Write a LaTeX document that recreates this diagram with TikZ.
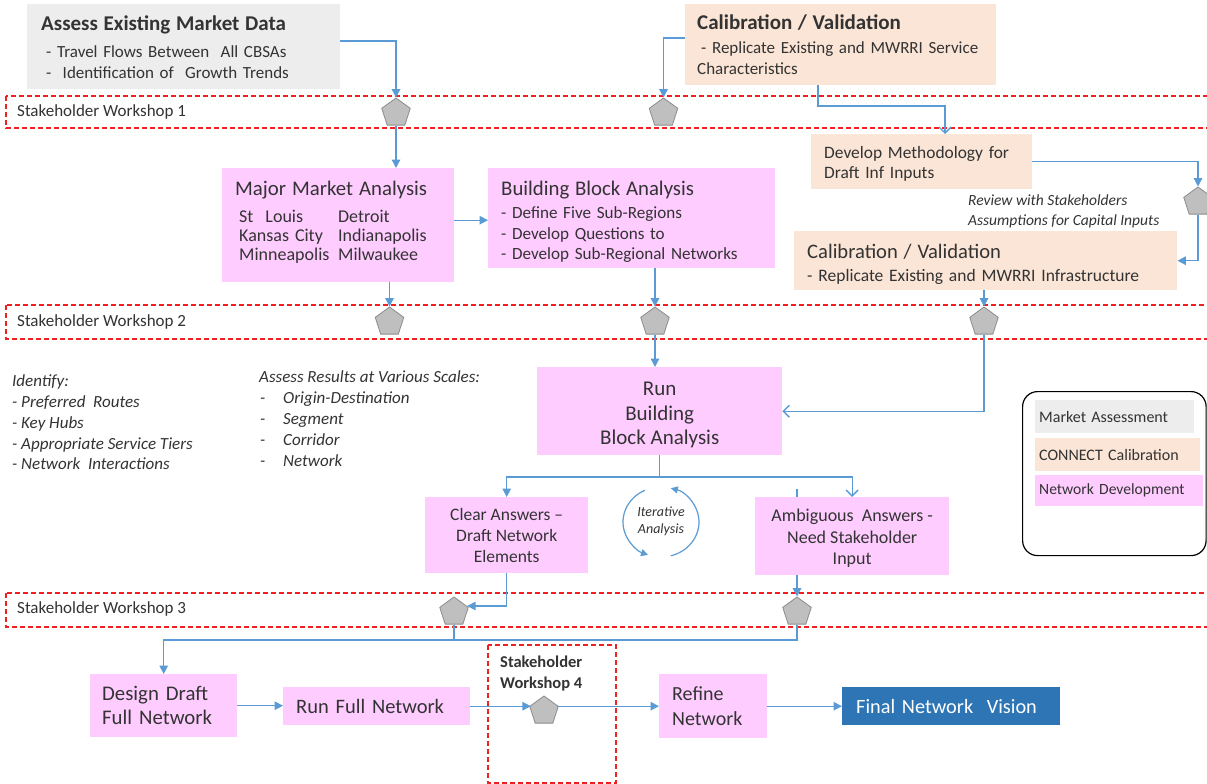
\documentclass[tikz,border=0pt]{standalone}
\usepackage{fontspec}
\setmainfont{Carlito}
\usetikzlibrary{arrows.meta,shapes.geometric}
\definecolor{pinkf}{HTML}{FFCCFF}
\definecolor{peach}{HTML}{FBE5D6}
\definecolor{grayf}{HTML}{EDEDED}
\definecolor{arr}{HTML}{5B9BD5}
\definecolor{pentf}{HTML}{BFBFBF}
\definecolor{pentd}{HTML}{8C8C8C}
\definecolor{finalb}{HTML}{2E75B6}
\definecolor{txt}{HTML}{333333}
\definecolor{wsred}{HTML}{F02020}
\begin{document}
\begin{tikzpicture}[x=1pt,y=-1pt,
  every node/.style={text=txt, inner sep=0pt},
  fbox/.style={anchor=north west, rectangle, inner sep=0pt, align=left},
  gbox/.style={fbox, fill=grayf},
  pbox/.style={fbox, fill=peach},
  mbox/.style={fbox, fill=pinkf},
  wsband/.style={draw=wsred, line width=1.2pt, dash pattern=on 5pt off 3pt},
  wslabel/.style={anchor=west, font=\fontsize{17}{20}\selectfont},
  pent/.style={regular polygon, regular polygon sides=5, minimum size=30pt, fill=pentf, draw=pentd, line width=0.8pt, inner sep=0pt},
  con/.style={draw=arr, line width=1.4pt, -{Triangle[length=8.5pt,width=8.5pt]}},
  ocon/.style={draw=arr, line width=1.4pt, -{Straight Barb[length=6pt,width=12pt]}},
  ln/.style={draw=arr, line width=1.4pt},
  arcarrow/.style={draw=arr, line width=1.2pt, -{Triangle[length=7pt,width=7pt]}},
  itnote/.style={anchor=west, align=left, text=txt}
]
\useasboundingbox (0,0) rectangle (1207,784);
\fill[white] (0,0) rectangle (1207,784);

% workshop bands
\draw[wsband] (6,96) rectangle (1215,128);
\draw[wsband] (6,305) rectangle (1215,339);
\draw[wsband] (6,593) rectangle (1215,627);
\draw[wsband] (488,645) rectangle (616,783);
\node[wslabel] (w1) at (17,112) {Stakeholder Workshop 1};
\node[wslabel] (w2) at (17,322) {Stakeholder Workshop 2};
\node[wslabel] (w3) at (17,609) {Stakeholder Workshop 3};
\node[anchor=north west, align=left, font=\fontsize{16.5}{21}\selectfont\bfseries] (w4) at (500,656) {Stakeholder\\Workshop 4};

% boxes
\node[gbox, minimum width=313pt, minimum height=85pt, text width=285pt, font=\fontsize{17}{21}\selectfont] (assess) at (27,4)
  {{\fontsize{21}{21}\selectfont\bfseries Assess Existing Market Data}\\[6pt]\hspace*{5pt}- Travel Flows Between\ \ All CBSAs\\\hspace*{5pt}-\ \ Identification of\ \ Growth Trends};
\node[pbox, minimum width=311pt, minimum height=81pt, text width=287pt, font=\fontsize{17}{20.5}\selectfont] (cal1) at (685,4)
  {{\fontsize{21}{21}\selectfont\bfseries Calibration / Validation}\\[3.5pt]\hspace*{4pt}- Replicate Existing and MWRRI Service\\Characteristics};
\node[pbox, minimum width=221pt, minimum height=55pt, text width=195pt, font=\fontsize{17.4}{20}\selectfont] (dev) at (811,134)
  {\rule{0pt}{16.2pt}Develop Methodology for\\Draft Inf Inputs};
\node[pbox, minimum width=383pt, minimum height=59pt, text width=357pt, font=\fontsize{17.5}{18}\selectfont] (cal2) at (794,231)
  {{\fontsize{20.6}{20}\selectfont\rule{0pt}{21.6pt}Calibration / Validation}\\[5pt]- Replicate Existing and MWRRI Infrastructure};
\node[mbox, minimum width=232pt, minimum height=114pt, text width=206pt, font=\fontsize{18}{19}\selectfont] (major) at (222,168)
  {{\fontsize{20.8}{19}\selectfont Major Market Analysis}\\[8pt]\hspace*{4pt}\makebox[99pt][l]{St\ \ Louis}Detroit\\\hspace*{4pt}\makebox[99pt][l]{Kansas City}Indianapolis\\\hspace*{4pt}\makebox[99pt][l]{Minneapolis}Milwaukee\rule[-9.5pt]{0pt}{0pt}};
\node[mbox, minimum width=287pt, minimum height=100pt, text width=261pt, font=\fontsize{17.1}{20.5}\selectfont] (bba) at (488,168)
  {{\fontsize{20.8}{20}\selectfont\rule{0pt}{22.5pt}Building Block Analysis}\\[2.5pt]- Define Five Sub-Regions\\- Develop Questions to\\- Develop Sub-Regional Networks};
\node[mbox, align=center, minimum width=245pt, minimum height=88pt, font=\fontsize{21}{24.5}\selectfont] (run) at (537,367)
  {\rule{0pt}{21.5pt}Run\\Building\\Block Analysis};
\node[mbox, align=center, minimum width=163pt, minimum height=76pt, font=\fontsize{17.5}{21}\selectfont] (clear) at (425,497)
  {Clear Answers \textendash\\Draft Network\\Elements};
\node[mbox, align=center, minimum width=194pt, minimum height=78pt, font=\fontsize{18}{21.5}\selectfont] (amb) at (755,497)
  {\rule{0pt}{16.6pt}Ambiguous\ \ Answers -\\Need Stakeholder\\Input};
\node[mbox, minimum width=147pt, minimum height=63pt, text width=123pt, font=\fontsize{20.8}{24}\selectfont] (design) at (90,674)
  {Design Draft\\Full Network};
\node[mbox, minimum width=187pt, minimum height=38pt, text width=161pt, font=\fontsize{20.5}{24}\selectfont] (runfull) at (283,687)
  {Run Full Network};
\node[mbox, minimum width=108pt, minimum height=64pt, text width=82pt, font=\fontsize{20}{25}\selectfont] (refine) at (659,674)
  {Refine\\Network};
\node[fbox, fill=finalb, text=white, minimum width=218pt, minimum height=38pt, text width=190pt, font=\fontsize{20.3}{24}\selectfont] (final) at (842,687)
  {Final Network\ \ Vision};

% legend
\node[anchor=north west, draw=black, line width=1.2pt, rounded corners=15pt, fill=white, minimum width=183.5pt, minimum height=164pt] (legend) at (1022,391) {};
\node[gbox, minimum width=159pt, minimum height=33pt, text width=151pt, font=\fontsize{16}{18}\selectfont] (lg1) at (1035,400) {Market Assessment};
\node[pbox, minimum width=165pt, minimum height=33pt, text width=157pt, font=\fontsize{16}{18}\selectfont] (lg2) at (1035,438) {CONNECT Calibration};
\node[mbox, minimum width=168pt, minimum height=31pt, text width=160pt, font=\fontsize{15.6}{18}\selectfont] (lg3) at (1035,475) {Network Development};

% pentagons
\node[pent] (p1a) at (396,113) {};
\node[pent] (p1b) at (663.5,113) {};
\node[pent] (p2a) at (389.5,322) {};
\node[pent] (p2b) at (655,322) {};
\node[pent] (p2c) at (984,322) {};
\node[pent] (pR) at (1198,202) {};
\node[pent] (p3a) at (454,612) {};
\node[pent] (p3b) at (797,612) {};
\node[pent] (p4) at (544,711) {};

% notes
\node[itnote, font=\fontsize{17}{20.8}\selectfont\itshape] (ident) at (12,422.5)
  {Identify:\\- Preferred\ \ Routes\\- Key Hubs\\- Appropriate Service Tiers\\- Network\ \ Interactions};
\node[itnote, font=\fontsize{17}{21}\selectfont\itshape] (scales) at (259,419)
  {Assess Results at Various Scales:\\\makebox[24pt][l]{\hspace*{1pt}-}Origin-Destination\\\makebox[24pt][l]{\hspace*{1pt}-}Segment\\\makebox[24pt][l]{\hspace*{1pt}-}Corridor\\\makebox[24pt][l]{\hspace*{1pt}-}Network};
\node[itnote, font=\fontsize{15.5}{20}\selectfont\itshape] (review) at (968,211)
  {Review with Stakeholders\\Assumptions for Capital Inputs};
\node[align=center, font=\fontsize{14}{17}\selectfont\itshape] (iter) at (661,521.5) {Iterative\\Analysis};

% iterative arcs
\draw[arcarrow] (670.83,555.81) arc[start angle=75, end angle=-75, x radius=38, y radius=35];
\draw[arcarrow] (644.94,490.28) arc[start angle=-115, end angle=-250, x radius=38, y radius=35];

% helper coordinates
\coordinate (k1) at (818,106);
\coordinate (k2) at (945,134);
\coordinate (y477) at (0,477);
\coordinate (y640) at (0,640);
\coordinate (j2) at (run.south |- y477);
\coordinate (j3) at (design.north |- y640);
\coordinate (s1) at (797,489);

% connectors
\draw[con] ([yshift=5.5pt]assess.east) -| (p1a.north);
\draw[con] ([yshift=6.5pt]cal1.west) -| (p1b.north);
\draw[ocon] (cal1.south -| k1) -- (k1) -| (k2);
\draw[con] (dev.east) -| (pR.north);
\draw[con] (pR.south) |- (cal2.east);
\draw[con] (p1a.south) -- (p1a.south |- major.north);
\draw[con] ([yshift=5pt]major.east) -- ([yshift=5pt]major.east -| bba.west);
\draw[con] (major.south -| p2a) -- (p2a.north);
\draw[con] (bba.south -| p2b) -- (p2b.north);
\draw[con] (cal2.south -| p2c) -- (p2c.north);
\draw[con] (p2b.south) -- (p2b.south |- run.north);
\draw[ocon] (p2c.south) |- (run.east);
\draw[ln] (run.south) -- (j2);
\draw[con] (j2) -| (clear.north);
\draw[ocon] (j2) -| (amb.north);
\draw[ln] (s1) -- (s1 |- amb.north);
\draw[con] (clear.south) |- ([yshift=6pt]p3a.east);
\draw[con] (amb.south -| p3b) -- (p3b.north);
\draw[ln] (p3b.south) |- (j3);
\draw[con] (p3a.south) |- (j3) -- (design.north);
\draw[con] (design.east) -- (design.east -| runfull.west);
\draw[con] (runfull.east) -- (runfull.east -| p4.west);
\draw[con] (p4.east |- runfull.east) -- (runfull.east -| refine.west);
\draw[con] (refine.east |- runfull.east) -- (runfull.east -| final.west);
\end{tikzpicture}
\end{document}
